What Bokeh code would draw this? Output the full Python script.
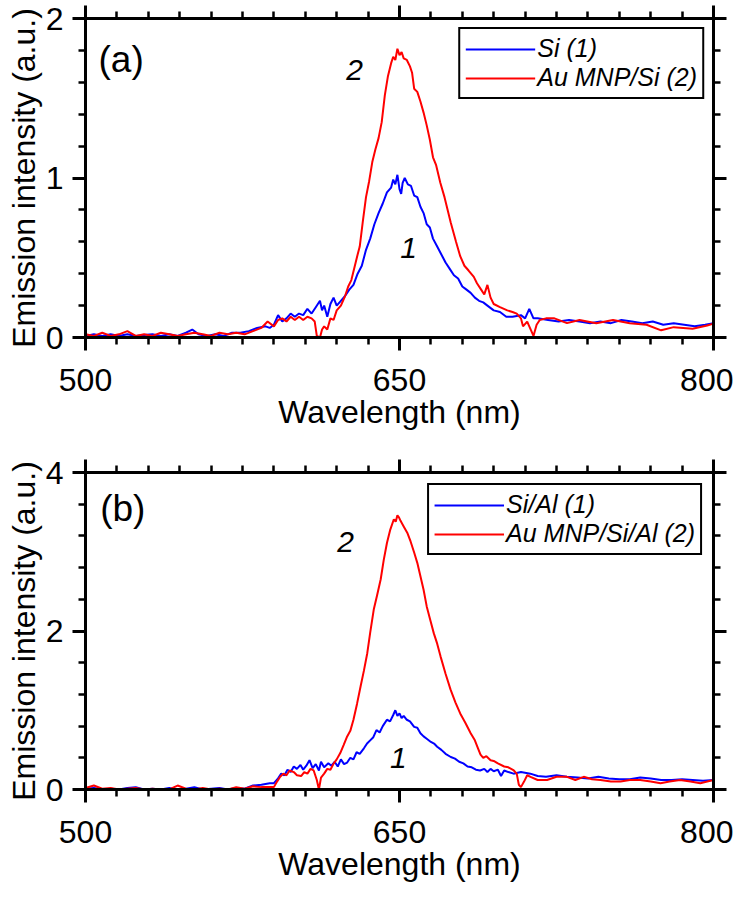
from bokeh.plotting import figure
from bokeh.models import (Range1d, FixedTicker, LinearAxis, Legend, LegendItem,
                          Label, CustomJSTickFormatter)
from bokeh.layouts import column
from bokeh.embed import file_html
from bokeh.resources import INLINE

# ---------------- data ----------------
# Panel (a): Si (1)
wl_si = [500, 504, 508, 512, 516, 520, 524, 528, 532, 536,
         540, 544, 548, 551, 554, 558, 562, 566, 570, 574,
         578, 582, 586, 588, 590, 592, 594, 596, 598, 600,
         602, 604, 606, 608, 610, 612, 613, 614, 615.5, 617,
         618.5, 620, 622, 624, 626, 628, 630, 632, 634, 636,
         638, 640, 642, 644, 646, 647, 648, 649, 650, 650.8,
         651.5, 652.5, 654, 655.5, 657, 658.5, 660, 661.5, 663, 664.5,
         666, 668, 670, 672, 674, 676, 678, 680, 682, 684,
         686, 688, 690, 692, 695, 698, 701, 704, 708, 710,
         712, 714, 716, 721, 726, 731, 736, 741, 746, 751,
         756, 761, 766, 771, 776, 781, 786, 791, 796, 800]
int_si = [0.01, 0.02, 0.01, 0.02, 0.01, 0.02, 0.01, 0.015, 0.02, 0.01,
          0.02, 0.01, 0.03, 0.05, 0.02, 0.01, 0.02, 0.01, 0.03, 0.03,
          0.04, 0.06, 0.07, 0.06, 0.08, 0.14, 0.10, 0.12, 0.15, 0.13,
          0.15, 0.14, 0.18, 0.15, 0.19, 0.23, 0.17, 0.20, 0.13, 0.21,
          0.25, 0.20, 0.23, 0.26, 0.30, 0.33, 0.40, 0.45, 0.55, 0.62,
          0.71, 0.78, 0.84, 0.91, 0.94, 0.99, 0.96, 1.02, 0.93, 0.90,
          0.97, 1.00, 0.96, 0.95, 0.89, 0.88, 0.82, 0.78, 0.71, 0.69,
          0.62, 0.57, 0.52, 0.47, 0.43, 0.39, 0.37, 0.32, 0.30, 0.28,
          0.25, 0.23, 0.22, 0.20, 0.17, 0.16, 0.13, 0.13, 0.14, 0.12,
          0.18, 0.12, 0.12, 0.11, 0.10, 0.11, 0.10, 0.09, 0.10, 0.09,
          0.11, 0.10, 0.09, 0.10, 0.08, 0.09, 0.08, 0.07, 0.08, 0.09]

# Panel (a): Au MNP/Si (2)
wl_au = [500, 504, 508, 512, 516, 520, 524, 528, 532, 536,
         540, 544, 548, 552, 556, 560, 564, 568, 572, 576,
         580, 584, 587, 590, 592, 594, 596, 598, 600, 602,
         604, 606, 608, 609.5, 610.5, 612, 613, 614, 615.5, 617,
         618.5, 620, 622, 624, 625.5, 627, 628.5, 630, 631, 632.5,
         634, 635.5, 637, 638.5, 640, 641.5, 643, 644.5, 646, 647,
         648, 649, 650, 651, 652, 653.5, 655, 656, 657, 658.5,
         660, 661.5, 663, 664.5, 666, 667.5, 669.5, 671.5, 674.5, 677,
         679, 681, 683, 685.5, 687, 689, 690.5, 692, 693.5, 695,
         698, 701.5, 704, 706, 708, 709, 711, 714, 715.5, 717,
         720, 724, 730, 736, 744, 752, 760, 768, 775, 781,
         790, 797, 800]
int_au = [0.02, 0.01, 0.03, 0.01, 0.02, 0.04, 0.01, 0.02, 0.01, 0.03,
          0.02, 0.01, 0.02, 0.03, 0.02, 0.01, 0.03, 0.02, 0.03, 0.02,
          0.04, 0.06, 0.10, 0.07, 0.11, 0.12, 0.10, 0.13, 0.11, 0.13,
          0.11, 0.13, 0.12, 0.10, 0.01, 0.0, 0.05, 0.07, 0.05, 0.12,
          0.11, 0.17, 0.20, 0.26, 0.32, 0.36, 0.44, 0.52, 0.57, 0.73,
          0.88, 0.98, 1.10, 1.18, 1.25, 1.35, 1.52, 1.64, 1.72, 1.76,
          1.74, 1.81, 1.77, 1.79, 1.75, 1.74, 1.70, 1.66, 1.56, 1.54,
          1.48, 1.41, 1.33, 1.24, 1.13, 1.08, 0.97, 0.88, 0.72, 0.60,
          0.51, 0.45, 0.42, 0.38, 0.34, 0.30, 0.27, 0.33, 0.25, 0.21,
          0.19, 0.17, 0.16, 0.15, 0.12, 0.07, 0.10, 0.01, 0.08, 0.11,
          0.12, 0.12, 0.09, 0.11, 0.09, 0.11, 0.09, 0.08, 0.045, 0.065,
          0.055, 0.075, 0.087]

# Panel (b): Si/Al (1)
wl_sial = [500, 504, 508, 512, 516, 520, 524, 528, 532, 536,
           540, 544, 548, 552, 556, 560, 564, 568, 572, 576,
           580, 584, 588, 590, 592, 593.5, 595, 596.5, 598, 599.5,
           601, 602.7, 604, 605.5, 607, 608.5, 610, 611.5, 612.5, 614,
           616, 617.5, 619, 620.5, 622, 623.5, 625, 626.5, 628, 629.5,
           631, 633, 634.5, 636, 637.5, 639, 640.5, 642, 644, 645.5,
           647, 648, 649, 650, 651, 652, 653.5, 655, 657, 658.5,
           660, 661.5, 663, 665, 666.5, 668, 670, 672, 674.5, 676.5,
           678.5, 680.5, 682.5, 684.5, 686.5, 688.5, 690.5, 692, 693.5, 695,
           697, 698.5, 700, 702, 704.5, 708, 712.5, 716, 720, 725,
           730, 735, 740, 745, 750, 755, 760, 765, 770, 775,
           780, 785, 790, 795, 800]
int_sial = [0.01, 0.02, 0.0, 0.01, 0.0, 0.02, 0.03, 0.0, 0.01, 0.0,
            0.02, 0.0, 0.01, 0.03, 0.0, 0.01, 0.02, 0.0, 0.02, 0.01,
            0.05, 0.06, 0.08, 0.08, 0.14, 0.20, 0.18, 0.25, 0.22, 0.29,
            0.26, 0.31, 0.25, 0.30, 0.37, 0.27, 0.32, 0.24, 0.35, 0.28,
            0.33, 0.30, 0.35, 0.29, 0.38, 0.32, 0.34, 0.40, 0.38, 0.47,
            0.45, 0.52, 0.58, 0.62, 0.66, 0.75, 0.72, 0.80, 0.88, 0.86,
            0.94, 1.00, 0.93, 0.96, 0.90, 0.93, 0.88, 0.86, 0.79, 0.78,
            0.71, 0.67, 0.64, 0.60, 0.58, 0.54, 0.50, 0.45, 0.41, 0.39,
            0.35, 0.33, 0.29, 0.28, 0.25, 0.24, 0.26, 0.22, 0.26, 0.23,
            0.25, 0.17, 0.24, 0.22, 0.20, 0.22, 0.20, 0.17, 0.16, 0.18,
            0.16, 0.15, 0.14, 0.16, 0.14, 0.13, 0.13, 0.15, 0.14, 0.12,
            0.12, 0.13, 0.12, 0.11, 0.12]

# Panel (b): Au MNP/Si/Al (2)
wl_ausial = [500, 504, 508, 512, 516, 520, 524, 528, 532, 536,
             540, 544, 548, 552, 556, 560, 564, 568, 572, 576,
             580, 584, 588, 590, 591.5, 593, 594.5, 596, 597.5, 599.5,
             601, 603, 604.5, 606, 607.5, 609, 610.5, 611.5, 612.5, 614,
             615.5, 617, 618.6, 620, 621.7, 623.3, 625, 626.5, 628, 629.7,
             631.4, 633, 634.6, 636, 637.7, 639.3, 641, 642.5, 644, 645.6,
             647.3, 648.2, 649, 649.8, 650.5, 652, 653.7, 655.3, 657, 658.5,
             660, 661.5, 663, 664.7, 666.4, 668, 669.6, 672, 674.4, 676.7,
             679, 681.5, 684, 686, 687.5, 688.7, 690, 691.5, 693.5, 695,
             697, 700, 702, 704.6, 706, 707, 708, 709.5, 711, 712.6,
             716, 720.5, 725, 730, 734, 738, 742, 746, 751, 755.6,
             760, 765, 770, 774.7, 779, 784, 789, 793.7, 797, 800]
int_ausial = [0.02, 0.05, 0.01, 0.02, 0.0, 0.01, 0.02, 0.0, 0.01, 0.0,
              0.0, 0.05, 0.01, 0.0, 0.02, 0.0, 0.01, 0.0, 0.03, 0.01,
              0.04, 0.03, 0.03, 0.03, 0.10, 0.16, 0.20, 0.18, 0.24, 0.22,
              0.18, 0.17, 0.22, 0.20, 0.26, 0.24, 0.12, 0.0, 0.15, 0.20,
              0.26, 0.25, 0.33, 0.38, 0.46, 0.56, 0.67, 0.74, 0.88, 1.08,
              1.30, 1.50, 1.72, 1.98, 2.27, 2.45, 2.65, 2.90, 3.11, 3.28,
              3.41, 3.38, 3.46, 3.43, 3.39, 3.32, 3.24, 3.13, 2.99, 2.86,
              2.69, 2.52, 2.31, 2.14, 1.97, 1.84, 1.68, 1.46, 1.26, 1.10,
              0.96, 0.84, 0.71, 0.62, 0.52, 0.44, 0.40, 0.42, 0.37, 0.36,
              0.33, 0.29, 0.28, 0.24, 0.20, 0.06, 0.03, 0.10, 0.18, 0.16,
              0.12, 0.12, 0.16, 0.16, 0.12, 0.16, 0.13, 0.12, 0.10, 0.10,
              0.12, 0.12, 0.10, 0.08, 0.10, 0.12, 0.10, 0.08, 0.10, 0.12]

x_major = [500, 650, 800]
x_minor = list(range(500, 801, 15))
y_major_a = [0, 1, 2]
y_minor_a = [i * 0.2 for i in range(11)]
y_major_b = [0, 2, 4]
y_minor_b = [i * 0.4 for i in range(11)]

labels_a = ["Si (1)", "Au MNP/Si (2)"]
labels_b = ["Si/Al (1)", "Au MNP/Si/Al (2)"]

FONT = "Liberation Sans"
BLUE = "#0000ff"
RED = "#ff0000"


def style_axis(ax, show_labels=True):
    ax.axis_line_width = 3
    ax.axis_line_color = "black"
    ax.major_tick_line_width = 3
    ax.minor_tick_line_width = 2.5
    ax.major_tick_line_color = "black"
    ax.minor_tick_line_color = "black"
    ax.major_tick_in = 0
    ax.major_tick_out = 13
    ax.minor_tick_in = 0
    ax.minor_tick_out = 7
    ax.major_label_text_font = FONT
    ax.major_label_text_color = "black"
    ax.axis_label_text_font = FONT
    ax.axis_label_text_font_size = "32px"
    ax.axis_label_text_font_style = "normal"
    ax.axis_label_text_color = "black"
    if show_labels:
        ax.major_label_text_font_size = "32px"
    else:
        ax.major_label_text_font_size = "1px"
        ax.major_label_standoff = 0
        ax.formatter = CustomJSTickFormatter(code="return ''")


def make_panel(ymax, ymaj, ymin, wl1, i1, wl2, i2, leg_labels, tag, tag_pos,
               one_pos, two_pos, top_border, frame_h, bottom_border, leg_margin):
    p = figure(frame_width=628, frame_height=frame_h,
               x_range=Range1d(500, 800), y_range=Range1d(0, ymax),
               output_backend="svg", toolbar_location=None,
               min_border_left=85, min_border_right=20,
               min_border_top=top_border, min_border_bottom=bottom_border,
               x_axis_label="Wavelength (nm)",
               y_axis_label="Emission intensity (a.u.)")
    p.grid.visible = False
    p.outline_line_color = None
    p.background_fill_color = "white"
    p.border_fill_color = "white"

    p.xaxis.ticker = FixedTicker(ticks=x_major, minor_ticks=x_minor)
    p.yaxis.ticker = FixedTicker(ticks=ymaj, minor_ticks=ymin)
    for ax in p.xaxis:
        style_axis(ax)
        ax.major_label_standoff = 18
        ax.axis_label_standoff = 0
    for ax in p.yaxis:
        style_axis(ax)
        ax.major_label_standoff = 9
        ax.axis_label_standoff = 1

    top = LinearAxis(ticker=FixedTicker(ticks=x_major, minor_ticks=x_minor))
    style_axis(top, show_labels=False)
    p.add_layout(top, "above")
    right = LinearAxis(ticker=FixedTicker(ticks=ymaj, minor_ticks=ymin))
    style_axis(right, show_labels=False)
    p.add_layout(right, "right")

    r1 = p.line(wl1, i1, line_color=BLUE, line_width=2)
    r2 = p.line(wl2, i2, line_color=RED, line_width=2)

    legend = Legend(items=[LegendItem(label=leg_labels[0], renderers=[r1]),
                           LegendItem(label=leg_labels[1], renderers=[r2])],
                    location="top_right")
    legend.label_text_font = FONT
    legend.label_text_font_style = "italic"
    legend.label_text_font_size = "25px"
    legend.label_text_color = "black"
    legend.border_line_color = "black"
    legend.border_line_alpha = 1
    legend.border_line_width = 2
    legend.background_fill_color = "white"
    legend.background_fill_alpha = 1
    legend.glyph_width = 70
    legend.glyph_height = 24
    legend.label_standoff = 2
    legend.padding = 5
    legend.spacing = 0
    legend.margin = leg_margin
    p.add_layout(legend)

    p.add_layout(Label(x=tag_pos[0], y=tag_pos[1], text=tag, text_font=FONT,
                       text_font_size="37px", text_align="left",
                       text_baseline="middle", text_color="black"))
    p.add_layout(Label(x=one_pos[0], y=one_pos[1], text="1", text_font=FONT,
                       text_font_size="30px", text_font_style="italic",
                       text_align="center", text_baseline="middle",
                       text_color="black"))
    p.add_layout(Label(x=two_pos[0], y=two_pos[1], text="2", text_font=FONT,
                       text_font_size="30px", text_font_style="italic",
                       text_align="center", text_baseline="middle",
                       text_color="black"))
    return p


p1 = make_panel(2, y_major_a, y_minor_a, wl_si, int_si, wl_au, int_au, labels_a,
                "(a)", (506.2, 1.74), (654.3, 0.56), (628.5, 1.68),
                18, 319, 113, 9)
p2 = make_panel(4, y_major_b, y_minor_b, wl_sial, int_sial, wl_ausial, int_ausial, labels_b,
                "(b)", (507.0, 3.54), (649.5, 0.40), (624.2, 3.12),
                22, 317, 92, 11)

layout = column(p1, p2, spacing=0)
open("out.html", "w").write(file_html(layout, INLINE))
